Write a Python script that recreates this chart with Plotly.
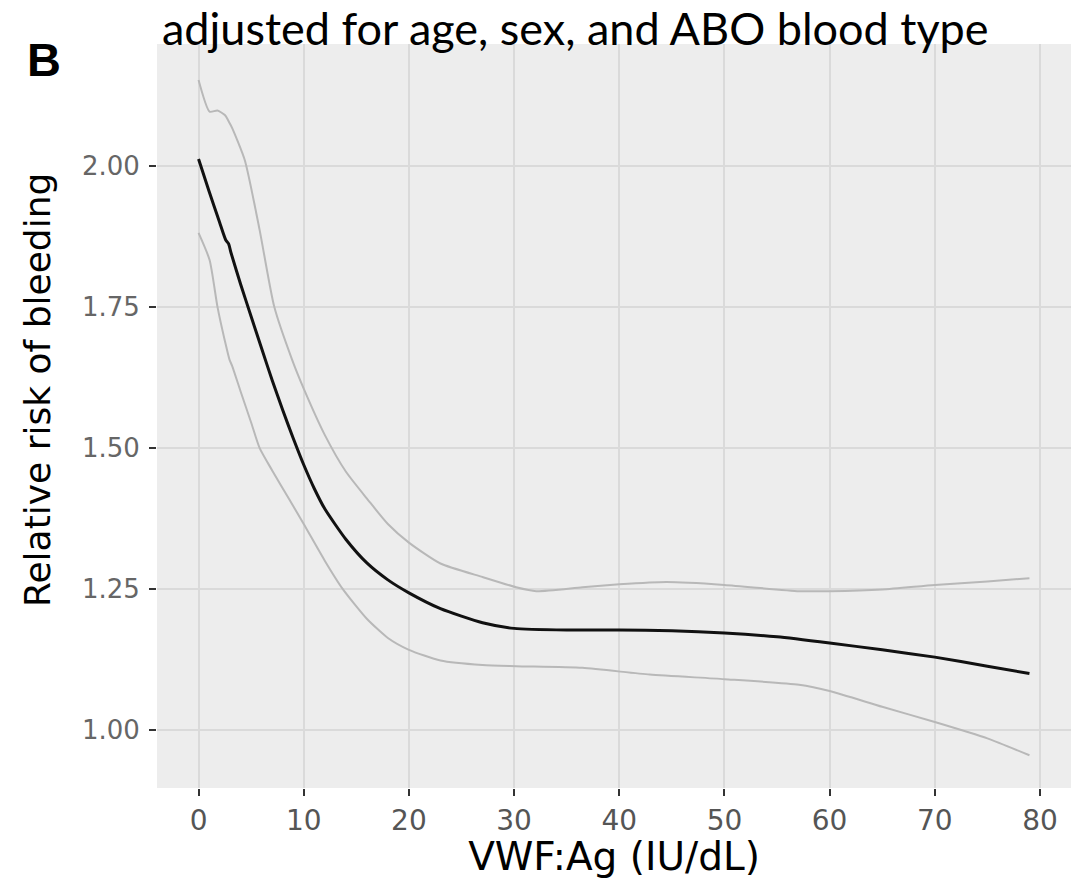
import plotly.graph_objects as go

# Relative risk estimate (black) and confidence bounds (gray)
est_x = [0, 1, 2, 2.6, 2.85, 3.1, 4, 5, 6, 7, 8, 9, 10, 11, 12, 14, 16, 18, 20, 23, 27, 30, 35, 40, 45, 50, 55, 60, 65, 70, 75, 79]
est_y = [2.012, 1.955, 1.90, 1.868, 1.862, 1.845, 1.79, 1.733, 1.676, 1.62, 1.567, 1.517, 1.47, 1.428, 1.392, 1.338, 1.296, 1.266, 1.243, 1.215, 1.190, 1.180, 1.177, 1.177, 1.176, 1.172, 1.165, 1.154, 1.142, 1.129, 1.113, 1.10]

upper_x = [0, 1.05, 1.8, 2.5, 2.95, 3.2, 4.4, 5.8, 7.2, 8.9, 10, 12, 14, 16.1, 18, 20, 23, 27, 30.2, 32.1, 36.5, 40, 44.5, 50, 57.1, 60, 65, 70, 75, 79]
upper_y = [2.152, 2.096, 2.098, 2.09, 2.076, 2.067, 2.01, 1.887, 1.75, 1.656, 1.605, 1.523, 1.458, 1.408, 1.365, 1.332, 1.295, 1.271, 1.253, 1.246, 1.253, 1.258, 1.262, 1.257, 1.246, 1.246, 1.249, 1.257, 1.263, 1.269]

lower_x = [0, 1.05, 1.8, 2.5, 2.95, 3.2, 4, 5, 5.8, 7, 8.65, 10, 12, 13.7, 16, 18, 20, 23, 27, 30.2, 36.5, 42.9, 50, 57.1, 60, 65, 70, 75, 79]
lower_y = [1.881, 1.833, 1.75, 1.69, 1.656, 1.645, 1.60, 1.545, 1.50, 1.46, 1.408, 1.365, 1.30, 1.25, 1.197, 1.163, 1.142, 1.123, 1.115, 1.113, 1.11, 1.098, 1.09, 1.08, 1.069, 1.041, 1.014, 0.985, 0.955]

x_ticks = [0, 10, 20, 30, 40, 50, 60, 70, 80]
y_ticks = [1.00, 1.25, 1.50, 1.75, 2.00]
y_tick_text = ["1.00", "1.25", "1.50", "1.75", "2.00"]

title_text = "adjusted for age, sex, and ABO blood type"
panel_label = "B"
x_title = "VWF:Ag (IU/dL)"
y_title = "Relative risk of bleeding"

fig = go.Figure()
fig.add_trace(go.Scatter(x=upper_x, y=upper_y, mode="lines",
                         line=dict(color="#B8B8B8", width=2, shape="spline", smoothing=0.6), hoverinfo="skip"))
fig.add_trace(go.Scatter(x=lower_x, y=lower_y, mode="lines",
                         line=dict(color="#B8B8B8", width=2, shape="spline", smoothing=0.6), hoverinfo="skip"))
fig.add_trace(go.Scatter(x=est_x, y=est_y, mode="lines",
                         line=dict(color="#111111", width=3, shape="spline", smoothing=0.6)))

axis_font = "DejaVu Sans"
fig.update_layout(
    width=1073, height=871,
    margin=dict(l=149, r=10, t=36, b=91),
    paper_bgcolor="white",
    plot_bgcolor="#EDEDED",
    showlegend=False,
    xaxis=dict(
        range=[-3.95, 82.95], tickvals=x_ticks, ticktext=[str(v) for v in x_ticks],
        showgrid=True, gridcolor="#DADADA", gridwidth=2, zeroline=False,
        ticks="outside", ticklen=7, tickwidth=2, tickcolor="#333333",
        tickfont=dict(family=axis_font, size=28, color="#555555"),
        ticklabelstandoff=0, automargin=False,
        title=dict(text=x_title, font=dict(family=axis_font, size=39, color="black"), standoff=7),
        showline=False,
    ),
    yaxis=dict(
        range=[0.897, 2.216], tickvals=y_ticks, ticktext=y_tick_text,
        showgrid=True, gridcolor="#DADADA", gridwidth=2, zeroline=False,
        ticks="outside", ticklen=7, tickwidth=2, tickcolor="#333333",
        tickfont=dict(family=axis_font, size=26, color="#666666"),
        ticklabelstandoff=4, automargin=False,
        showline=False,
    ),
    annotations=[
        dict(text=title_text, xref="paper", yref="paper", x=0.003, y=1.021,
             xanchor="left", yanchor="middle", showarrow=False,
             font=dict(family="Lato", size=45, color="black")),
        dict(text="<b>" + panel_label + "</b>", xref="paper", yref="paper", x=-0.1236, y=0.9785,
             xanchor="center", yanchor="middle", showarrow=False,
             font=dict(family="Liberation Sans", size=47, color="black")),
        dict(text=y_title, xref="paper", yref="paper", x=-0.1302, y=0.535,
             xanchor="center", yanchor="middle", textangle=-90, showarrow=False,
             font=dict(family=axis_font, size=36, color="black")),
    ],
)

fig.write_html("out.html")
